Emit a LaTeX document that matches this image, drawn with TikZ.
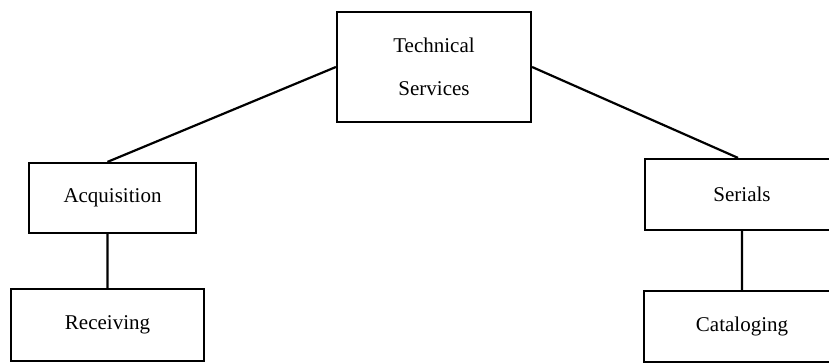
\documentclass[tikz,border=0pt]{standalone}
\usepackage{fontspec}
\setmainfont{Liberation Serif}
\usepackage{tikz}

\tikzset{unitbox/.style={draw,rectangle,line width=1.1pt,inner sep=0pt,font=\fontsize{10.5}{12.6}\selectfont}}

\begin{document}
\begin{tikzpicture}[x=0.5pt,y=0.5pt]
            		\useasboundingbox (0,0) rectangle (829,363);
            		\node (tech) at (434,296) [unitbox,minimum width=97pt,minimum height=55pt,align=center] {Technical\\[9pt]Services};
            		\node (acq) at (112.5,165) [unitbox,minimum width=83.5pt,minimum height=35pt] {Acquisition};
            		\node (recv) at (107.5,38) [unitbox,minimum width=96.5pt,minimum height=36pt] {Receiving};
            		\node (ser) at (742,168.5) [unitbox,minimum width=97pt,minimum height=35.5pt] {Serials};
            		\node (cat) at (742,36.5) [unitbox,minimum width=98pt,minimum height=35.5pt] {Cataloging};

            		\draw[line width=1.1pt] (tech.west) -- ([xshift=-2.5pt]acq.north)  (recv.north) -- (recv.north |- acq.south);
            		\draw[line width=1.1pt] (tech.east) -- ([xshift=-2pt]ser.north) (ser.south) -- (cat.north);

        		\end{tikzpicture}
\end{document}
